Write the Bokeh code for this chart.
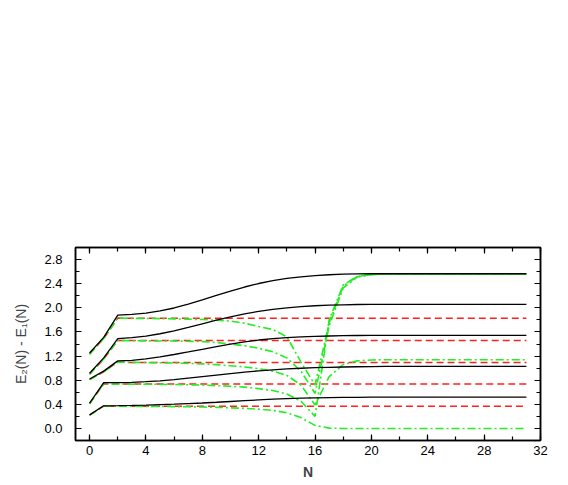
from bokeh.plotting import figure
from bokeh.models import LinearAxis, SingleIntervalTicker, NumeralTickFormatter, Range1d
from bokeh.embed import file_html
from bokeh.resources import INLINE

N = list(range(0, 32))

# black solid curves
b1 = [0.225, 0.375, 0.378, 0.382, 0.387, 0.395, 0.403, 0.412, 0.422, 0.434, 0.447, 0.460,
      0.473, 0.485, 0.494, 0.501, 0.507, 0.511, 0.514, 0.516] + [0.518] * 12
b2 = [0.42, 0.76, 0.760, 0.765, 0.775, 0.790, 0.810, 0.835, 0.860, 0.885, 0.910, 0.935,
      0.955, 0.972, 0.987, 0.998, 1.007, 1.014, 1.019, 1.023, 1.026] + [1.03] * 11
b3 = [0.82, 0.95, 1.120, 1.130, 1.155, 1.188, 1.226, 1.268, 1.312, 1.355, 1.397, 1.435,
      1.466, 1.489, 1.505, 1.518, 1.527, 1.533, 1.538, 1.541] + [1.544] * 12
b4 = [0.915, 1.17, 1.490, 1.505, 1.532, 1.570, 1.618, 1.675, 1.735, 1.795, 1.850, 1.900,
      1.942, 1.974, 1.999, 2.019, 2.034, 2.044, 2.050, 2.055] + [2.058] * 12
b5 = [1.25, 1.51, 1.880, 1.890, 1.912, 1.948, 1.997, 2.060, 2.130, 2.205, 2.278, 2.345,
      2.403, 2.450, 2.487, 2.514, 2.534, 2.548, 2.557, 2.562] + [2.565] * 12

# red dashed curves
r1 = [0.22, 0.37] + [0.368] * 30
r2 = [0.41, 0.74] + [0.735] * 30
r3 = [0.81, 0.94, 1.10] + [1.092] * 29
r4 = [0.90, 1.15, 1.46] + [1.458] * 29
r5 = [1.23, 1.49, 1.83] + [1.825] * 29

# green dash-dot curves
g1 = [0.22, 0.37, 0.368, 0.367, 0.366, 0.364, 0.362, 0.359, 0.355, 0.350, 0.342, 0.333,
      0.320, 0.300, 0.260, 0.180, 0.050, 0.005] + [0.0] * 14
g2 = [0.41, 0.74, 0.735, 0.734, 0.733, 0.731, 0.728, 0.724, 0.718, 0.710, 0.700, 0.685,
      0.660, 0.630, 0.570, 0.450, 0.200, 1.800, 2.380, 2.520, 2.555] + [2.56] * 11
g3 = [0.81, 0.94, 1.10, 1.095, 1.092, 1.089, 1.085, 1.078, 1.070, 1.058, 1.040, 1.020,
      0.990, 0.950, 0.880, 0.720, 0.390, 0.860, 1.060, 1.120, 1.135] + [1.14] * 11
g4 = [0.90, 1.15, 1.46, 1.455, 1.452, 1.450, 1.449, 1.445, 1.440, 1.425, 1.400, 1.370,
      1.330, 1.270, 1.170, 0.950, 0.580, 1.700, 2.330, 2.510, 2.550] + [2.56] * 11
g5 = [1.23, 1.49, 1.83, 1.825, 1.823, 1.820, 1.817, 1.812, 1.805, 1.795, 1.780, 1.745,
      1.690, 1.640, 1.520, 1.100, 0.720, 1.750, 2.360, 2.520, 2.555] + [2.56] * 11

black = [b1, b2, b3, b4, b5]
red = [r1, r2, r3, r4, r5]
green = [g1, g2, g3, g4, g5]

p = figure(width=560, height=482, output_backend="svg", toolbar_location=None,
           x_range=Range1d(-1, 32), y_range=Range1d(-0.2, 3.0),
           min_border_left=75, min_border_right=20, min_border_top=247, min_border_bottom=41)
p.xgrid.visible = False
p.ygrid.visible = False
p.outline_line_color = "black"
p.outline_line_width = 1.5
p.background_fill_color = "white"
p.border_fill_color = "white"

for ys in red:
    p.line(N, ys, line_color="#ff2020", line_width=1.5, line_dash="7 4")
for ys in green:
    p.line(N, ys, line_color="#22ee22", line_width=1.6, line_dash="8 3 2 3")
for ys in black:
    p.line(N, ys, line_color="black", line_width=1.3)

FONT = "Liberation Sans"

def style(ax, labels=True):
    ax.axis_line_color = "black"
    ax.axis_line_width = 1.5
    ax.major_tick_in = 6
    ax.major_tick_out = 0
    ax.minor_tick_in = 4
    ax.minor_tick_out = 0
    ax.major_tick_line_width = 1.2
    ax.minor_tick_line_width = 1.2
    ax.major_label_text_font = FONT
    ax.major_label_text_font_size = "13px"
    ax.major_label_text_color = "black"
    if not labels:
        ax.major_label_text_alpha = 0
        ax.major_label_text_font_size = "1px"
        ax.major_label_standoff = 0

xt = SingleIntervalTicker(interval=4, num_minor_ticks=2)
yt = SingleIntervalTicker(interval=0.4, num_minor_ticks=2)

p.xaxis.ticker = xt
p.yaxis.ticker = yt
p.yaxis.formatter = NumeralTickFormatter(format="0.0")
p.xaxis.formatter = NumeralTickFormatter(format="0")
for ax in p.xaxis + p.yaxis:
    style(ax)
p.xaxis.major_label_standoff = 5
p.yaxis.major_label_standoff = 13

p.xaxis.axis_label = "N"
p.xaxis.axis_label_text_font = FONT
p.xaxis.axis_label_text_font_style = "bold"
p.xaxis.axis_label_text_font_size = "14px"
p.xaxis.axis_label_standoff = 6

p.yaxis.axis_label = "E\u2082(N) - E\u2081(N)"
p.yaxis.axis_label_text_font = FONT
p.yaxis.axis_label_text_font_style = "normal"
p.yaxis.axis_label_text_font_size = "14px"
p.yaxis.axis_label_standoff = 12

top = LinearAxis(ticker=SingleIntervalTicker(interval=4, num_minor_ticks=2))
style(top, labels=False)
p.add_layout(top, "above")
right = LinearAxis(ticker=SingleIntervalTicker(interval=0.4, num_minor_ticks=2))
style(right, labels=False)
p.add_layout(right, "right")

open("out.html", "w").write(file_html(p, INLINE))
